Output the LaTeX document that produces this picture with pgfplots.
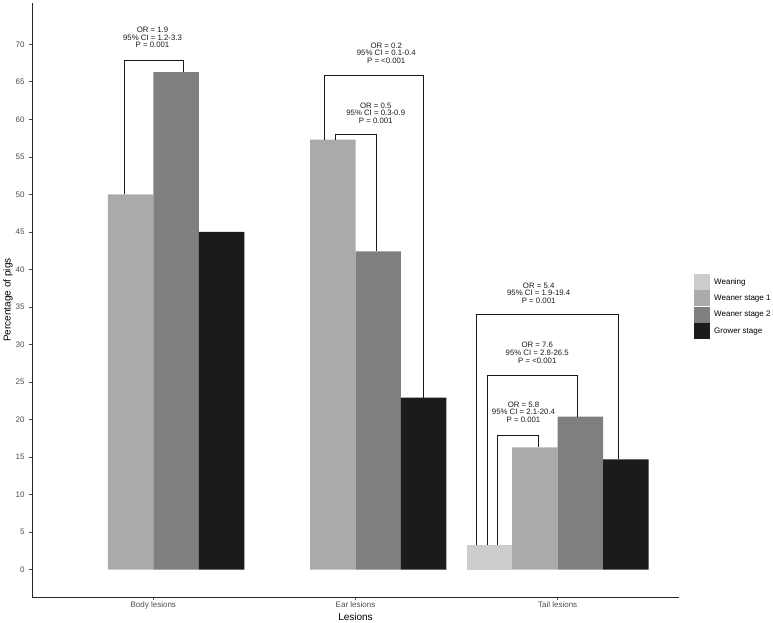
\documentclass[border=0pt]{standalone}
\usepackage{pgfplots}
\pgfplotsset{compat=1.18}
\usepackage{fontspec}
\setmainfont{Liberation Sans}
\definecolor{cWean}{HTML}{CCCCCC}
\definecolor{cW1}{HTML}{AAAAAA}
\definecolor{cW2}{HTML}{7F7F7F}
\definecolor{cGrow}{HTML}{1B1B1B}
\definecolor{tickgrey}{HTML}{4D4D4D}
\pgfplotsset{sqlegend/.style={legend image code/.code={\fill[##1] (0pt,-8pt) rectangle (16pt,8pt);}}}
\begin{document}
\begin{tikzpicture}[x=1pt,y=1pt]
\begin{axis}[
  at={(0,0)}, anchor=south west,
  scale only axis, width=647pt, height=594pt,
  xmin=0.4, xmax=3.6, ymin=-3.65, ymax=75.5,
  axis x line*=bottom, axis y line*=left,
  axis line style={draw=black!85, line width=0.8pt},
  xtick={1,2,3}, xticklabels={Body lesions, Ear lesions, Tail lesions},
  ytick={0,5,...,70},
  tick align=outside, major tick length=3pt,
  tick style={draw=black!70, line width=0.6pt},
  /pgf/number format/assume math mode=true,
  ticklabel style={font=\fontsize{8}{8}\selectfont, text=tickgrey},
  xticklabel style={yshift=2pt},
  yticklabel style={xshift=-1pt},
  xlabel={Lesions}, ylabel={Percentage of pigs},
  label style={font=\fontsize{10}{10}\selectfont},
  xlabel style={at={(axis description cs:0.5,0)}, anchor=north, yshift=-16pt, inner sep=0pt},
  ylabel style={at={(axis description cs:-0.037,0.5)}, anchor=center, inner sep=0pt},
  legend cell align=left,
  legend style={at={(axis description cs:1.0232,0.5438)}, anchor=north west,
    draw=none, fill=none, inner sep=0pt, row sep=0.3pt, column sep=4pt,
    font=\fontsize{8}{8}\selectfont, nodes={inner sep=0pt}},
  clip=false,
]
\addplot[ybar, bar width=0.225, bar shift=-0.3375, fill=cWean, draw=none, sqlegend]
  coordinates {(3,3.24)};
\addlegendentry{Weaning}
\addplot[ybar, bar width=0.225, bar shift=-0.1125, fill=cW1, draw=none, sqlegend]
  coordinates {(1,50.0) (2,57.3) (3,16.3)};
\addlegendentry{Weaner stage 1}
\addplot[ybar, bar width=0.225, bar shift=0.1125, fill=cW2, draw=none, sqlegend]
  coordinates {(1,66.3) (2,42.4) (3,20.4)};
\addlegendentry{Weaner stage 2}
\addplot[ybar, bar width=0.225, bar shift=0.3375, fill=cGrow, draw=none, sqlegend]
  coordinates {(1,45.0) (2,22.9) (3,14.7)};
\addlegendentry{Grower stage}
% significance brackets
\addplot[forget plot, black!90, line width=0.7pt] coordinates {(0.858,50.0) (0.858,67.9) (1.151,67.9) (1.151,66.3)};
\addplot[forget plot, black!90, line width=0.7pt] coordinates {(1.848,57.3) (1.848,65.9) (2.334,65.9) (2.334,22.9)};
\addplot[forget plot, black!90, line width=0.7pt] coordinates {(1.901,57.3) (1.901,58.0) (2.103,58.0) (2.103,42.4)};
\addplot[forget plot, black!90, line width=0.7pt] coordinates {(2.598,3.24) (2.598,34.0) (3.301,34.0) (3.301,14.7)};
\addplot[forget plot, black!90, line width=0.7pt] coordinates {(2.651,3.24) (2.651,25.9) (3.098,25.9) (3.098,20.4)};
\addplot[forget plot, black!90, line width=0.7pt] coordinates {(2.700,3.24) (2.700,17.9) (2.903,17.9) (2.903,16.3)};
\tikzset{ann/.style={align=center, font=\fontsize{7.8}{7.6}\selectfont, inner sep=0pt, text=black!90}}
\node[ann] at (axis cs:0.996,70.9) {OR = 1.9\\95\% CI = 1.2-3.3\\P = 0.001};
\node[ann] at (axis cs:2.152,68.84) {OR = 0.2\\95\% CI = 0.1-0.4\\P = <0.001};
\node[ann] at (axis cs:2.100,60.85) {OR = 0.5\\95\% CI = 0.3-0.9\\P = 0.001};
\node[ann] at (axis cs:2.906,36.86) {OR = 5.4\\95\% CI = 1.9-19.4\\P = 0.001};
\node[ann] at (axis cs:2.899,28.9) {OR = 7.6\\95\% CI = 2.8-26.5\\P = <0.001};
\node[ann] at (axis cs:2.831,21.0) {OR = 5.8\\95\% CI = 2.1-20.4\\P = 0.001};
\end{axis}
\pgfresetboundingbox
\useasboundingbox (-32,-26) rectangle (741,597);
\end{tikzpicture}
\end{document}
